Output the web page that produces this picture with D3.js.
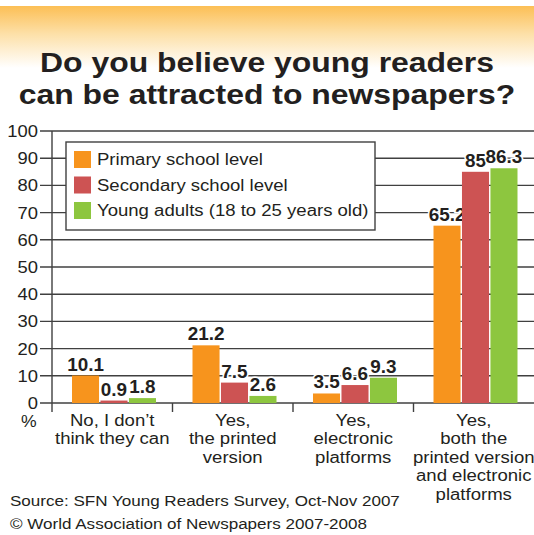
<!DOCTYPE html>
<html>
<head>
<meta charset="utf-8">
<script src="https://cdn.jsdelivr.net/npm/d3@7"></script>
<style>
  body { margin: 0; background: #fff; }
  svg { display: block; font-family: "Liberation Sans", Arial, Helvetica, sans-serif; }
</style>
</head>
<body>
<div class="chart-container"></div>
<script>
const titleLines = ["Do you believe young readers", "can be attracted to newspapers?"];
const categories = [
    ["No, I don\u2019t", "think they can"],
    ["Yes,", "the printed", "version"],
    ["Yes,", "electronic", "platforms"],
    ["Yes,", "both the", "printed version", "and electronic", "platforms"]
];
const seriesNames = ["Primary school level", "Secondary school level", "Young adults (18 to 25 years old)"];
const seriesColors = ["#f7941d", "#cd5353", "#8dc63f"];
const primary = [10.1, 21.2, 3.5, 65.2];
const secondary = [0.9, 7.5, 6.6, 85];
const youngAdults = [1.8, 2.6, 9.3, 86.3];
const yTicks = [0, 10, 20, 30, 40, 50, 60, 70, 80, 90, 100];
const sourceLines = ["Source: SFN Young Readers Survey, Oct-Nov 2007", "\u00a9 World Association of Newspapers 2007-2008"];

const W = 534, H = 535;
const svg = d3.select(".chart-container").append("svg")
    .attr("width", W).attr("height", H);

// the original typeface runs wider than Liberation Sans: stretch glyphs around the anchor x
const widen = (sel, k) => sel.each(function () {
    const x = +d3.select(this).attr("x");
    d3.select(this).attr("transform", `translate(${x * (1 - k)},0) scale(${k},1)`);
});

// orange header fade
const grad = svg.append("defs").append("linearGradient")
    .attr("id", "hdr").attr("x1", "0%").attr("y1", "0%").attr("x2", "0%").attr("y2", "100%");
grad.append("stop").attr("offset", "0%").attr("stop-color", "#fcbf55");
grad.append("stop").attr("offset", "45%").attr("stop-color", "#fde0a8");
grad.append("stop").attr("offset", "100%").attr("stop-color", "#ffffff");
svg.append("rect").attr("x", 0).attr("y", 6).attr("width", W).attr("height", 62).attr("fill", "url(#hdr)");

svg.selectAll(".title").data(titleLines).join("text")
    .attr("class", "title")
    .attr("x", W / 2).attr("y", (d, i) => 72 + i * 32)
    .attr("text-anchor", "middle")
    .attr("font-size", 28).attr("font-weight", "bold").attr("fill", "#231f20")
    .text(d => d)
    .call(widen, 1.14);

const x0 = 52, xEnd = 534, yBase = 403, yTop = 131;
const xScale = d3.scaleBand().domain(d3.range(categories.length)).range([x0, xEnd]);
const yScale = d3.scaleLinear().domain([0, 100]).range([yBase, yTop]);
const inner = d3.scaleBand().domain(d3.range(3)).range([20, 104]).paddingInner(0.05);

// gridlines + ticks
svg.append("g").selectAll("line").data(yTicks).join("line")
    .attr("x1", 40).attr("x2", W)
    .attr("y1", d => yScale(d)).attr("y2", d => yScale(d))
    .attr("stroke", "#404040").attr("stroke-width", 1.4);

svg.append("g").selectAll("text").data(yTicks).join("text")
    .attr("x", 38).attr("y", d => yScale(d) + 6)
    .attr("text-anchor", "end").attr("font-size", 16).attr("fill", "#231f20")
    .text(d => d)
    .call(widen, 1.15);

svg.append("text").attr("x", 21).attr("y", 427).attr("font-size", 16).attr("fill", "#231f20").text("%")
    .call(widen, 1.1);

// y axis and category ticks
svg.append("line").attr("x1", x0).attr("x2", x0).attr("y1", yTop).attr("y2", 412)
    .attr("stroke", "#404040").attr("stroke-width", 1.4);
svg.append("g").selectAll("line").data(d3.range(1, categories.length)).join("line")
    .attr("x1", d => xScale(d)).attr("x2", d => xScale(d))
    .attr("y1", yBase).attr("y2", 412)
    .attr("stroke", "#404040").attr("stroke-width", 1.4);

// legend
const legend = svg.append("g");
legend.append("rect").attr("x", 66).attr("y", 142).attr("width", 309).attr("height", 88)
    .attr("fill", "#fff").attr("stroke", "#404040").attr("stroke-width", 1.4);
seriesNames.forEach((name, i) => {
    legend.append("rect").attr("x", 74).attr("y", 151 + i * 25.5).attr("width", 17).attr("height", 17)
        .attr("fill", seriesColors[i]);
    legend.append("text").attr("x", 97).attr("y", 165.5 + i * 25.5)
        .attr("font-size", 16).attr("fill", "#231f20").text(name)
        .call(widen, 1.16);
});

// bars
const series = [primary, secondary, youngAdults];
series.forEach((vals, s) => {
    const g = svg.append("g");
    g.selectAll("rect").data(vals).join("rect")
        .attr("x", (d, i) => xScale(i) + inner(s))
        .attr("y", d => yScale(d))
        .attr("width", inner.bandwidth())
        .attr("height", d => yBase - yScale(d))
        .attr("fill", seriesColors[s]);
    g.selectAll("text").data(vals).join("text")
        .attr("x", (d, i) => xScale(i) + inner(s) + inner.bandwidth() / 2)
        .attr("y", d => yScale(d) - 5)
        .attr("text-anchor", "middle")
        .attr("font-size", 17.5).attr("font-weight", "bold").attr("fill", "#231f20")
        .attr("stroke", "#fff").attr("stroke-width", 3).attr("paint-order", "stroke")
        .text(d => d)
        .call(widen, 1.08);
});

// category labels
categories.forEach((lines, i) => {
    const cx = xScale(i) + xScale.bandwidth() / 2;
    svg.append("text")
        .attr("x", cx)
        .attr("text-anchor", "middle")
        .attr("font-size", 16).attr("fill", "#231f20")
        .call(widen, 1.16)
        .selectAll("tspan").data(lines).join("tspan")
        .attr("x", cx)
        .attr("y", (d, j) => 426 + j * 18.5)
        .text(d => d);
});

svg.selectAll(".src").data(sourceLines).join("text")
    .attr("class", "src")
    .attr("x", 10).attr("y", (d, i) => 506 + i * 23)
    .attr("font-size", 15.5).attr("fill", "#231f20")
    .text(d => d)
    .call(widen, 1.1);
</script>
</body>
</html>
